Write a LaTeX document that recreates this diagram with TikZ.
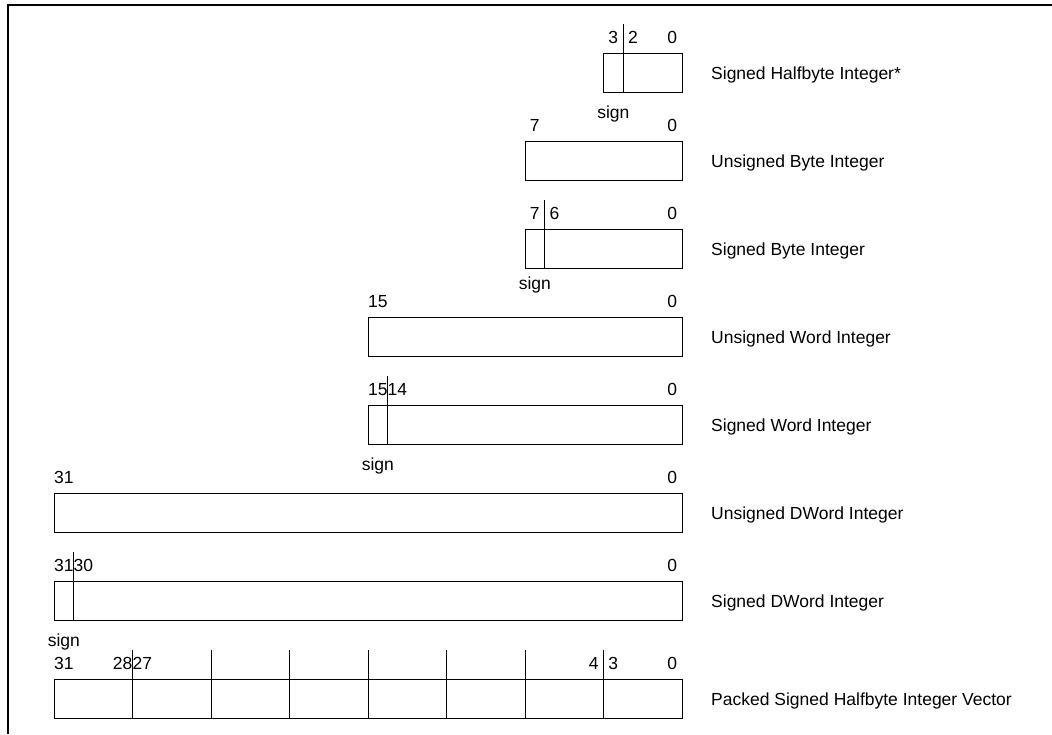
\documentclass[tikz,border=0pt]{standalone}
\usepackage{fontspec}
\setmainfont{Liberation Sans}
\tikzset{
	bitnum/.style={anchor=base, inner sep=0pt, font=\fontsize{17.5}{21}\selectfont},
	typelbl/.style={anchor=base west, inner sep=0pt, font=\fontsize{17.5}{21}\selectfont},
	fieldbox/.style={line width=0.9pt}
}
\begin{document}
\begin{tikzpicture}[x=1pt,y=-1pt]
	\newcommand{\bitw}{19.625}
	\newcommand{\rgt}{682}
	\useasboundingbox (0,0) rectangle (1052,734);
	\draw[line width=2pt] (8,734) -- (8,5) -- (1052,5);
	% one box per data type
	\foreach 
	\row/\ytop/\bits/\txt
	in
	{
		1/53/4/{Signed Halfbyte Integer*},
		2/141/8/{Unsigned Byte Integer},
		3/229/8/{Signed Byte Integer},
		4/317/16/{Unsigned Word Integer},
		5/405/16/{Signed Word Integer},
		6/493/32/{Unsigned DWord Integer},
		7/581/32/{Signed DWord Integer}
	}
	{
		\pgfmathtruncatemacro{\msb}{\bits-1}
		\draw[fieldbox] (\rgt-\bits*\bitw,\ytop) rectangle (\rgt,\ytop+39);
		\node[typelbl] (typ\row) at (711,\ytop+26) {\txt};
		\node[bitnum] (hi\row) at (\rgt-\bits*\bitw+0.5*\bitw,\ytop-9.5) {\msb};
		\node[bitnum] (lo\row) at (\rgt-0.5*\bitw,\ytop-9.5) {0};
	}
	% sign bit of the signed types
	\foreach 
	\row/\ytop/\bits/\gap
	in
	{
		1/53/4/26,
		3/229/8/21,
		5/405/16/26,
		7/581/32/26
	}
	{
		\pgfmathtruncatemacro{\nxt}{\bits-2}
		\draw[fieldbox] (\rgt-\bits*\bitw+\bitw,\ytop-29) -- (\rgt-\bits*\bitw+\bitw,\ytop+39);
		\node[bitnum] (nx\row) at (\rgt-\bits*\bitw+1.5*\bitw,\ytop-9.5) {\nxt};
		\node[bitnum] (sign\row) at (\rgt-\bits*\bitw+0.5*\bitw,\ytop+39+\gap) {sign};
	}
	% packed vector
	\def\ytop{679}
	\draw[fieldbox] (\rgt-32*\bitw,\ytop) rectangle (\rgt,\ytop+39);
	\foreach \k in {1,...,7}
		\draw[fieldbox] (\rgt-32*\bitw+\k*4*\bitw,\ytop-29) -- (\rgt-32*\bitw+\k*4*\bitw,\ytop+39);
	\foreach \b in {31,28,27,4,3,0}
		\node[bitnum] (pk\b) at (\rgt-\b*\bitw-0.5*\bitw,\ytop-9.5) {\b};
	\node[typelbl] (typ8) at (711,\ytop+26) {Packed Signed Halfbyte Integer Vector};
\end{tikzpicture}
\end{document}
